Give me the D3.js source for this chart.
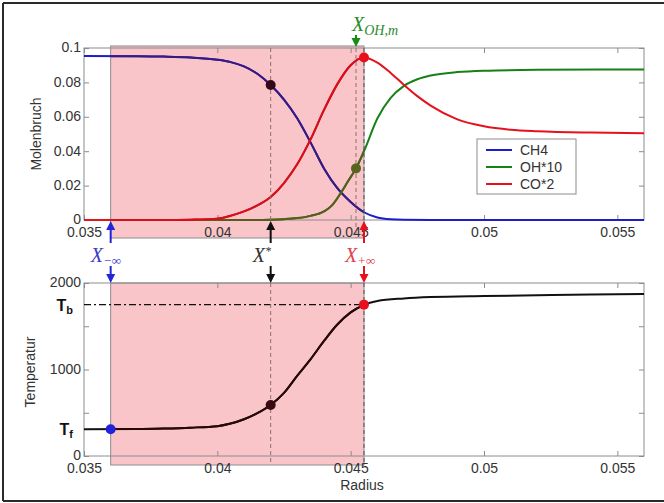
<!DOCTYPE html>
<html>
<head>
<meta charset="utf-8">
<script src="https://cdn.jsdelivr.net/npm/d3@7"></script>
<style>
  html, body { margin: 0; padding: 0; background: #fff; }
  svg { display: block; }
  .tick text { font-family: Arial, "Liberation Sans", sans-serif; font-size: 14px; fill: #333; }
</style>
</head>
<body>
<svg id="chart" width="664" height="503"></svg>
<script>
// ---- data ----------------------------------------------------------------
const radiusTicks = [0.035, 0.04, 0.045, 0.05, 0.055];
const radiusTickLabels = ["0.035", "0.04", "0.045", "0.05", "0.055"];
const moleTicks = [0, 0.02, 0.04, 0.06, 0.08, 0.1];
const moleTickLabels = ["0", "0.02", "0.04", "0.06", "0.08", "0.1"];
const tempTicks = [0, 500, 1000, 1500, 2000];
const tempTickLabels = ["0", "", "1000", "", "2000"];

const ch4 = [
  [0.035, 0.0953], [0.037, 0.0952], [0.038, 0.0950], [0.039, 0.0945], [0.040, 0.0932],
  [0.0405, 0.0918], [0.041, 0.0893], [0.0415, 0.0850], [0.042, 0.0785], [0.0425, 0.0700],
  [0.043, 0.0590], [0.0435, 0.0450], [0.044, 0.0300], [0.0445, 0.0185], [0.045, 0.0105],
  [0.0455, 0.0045], [0.046, 0.0015], [0.0465, 0.0004], [0.047, 0.0001], [0.048, 0], [0.056, 0]
];
const oh10 = [
  [0.035, 0], [0.041, 0], [0.042, 0.0002], [0.0425, 0.0005], [0.043, 0.0011], [0.0435, 0.0024],
  [0.044, 0.0050], [0.0443, 0.0085], [0.0446, 0.0150], [0.0449, 0.0225], [0.0452, 0.0300],
  [0.0455, 0.0400], [0.046, 0.0590], [0.0465, 0.0710], [0.047, 0.0780], [0.0475, 0.0818],
  [0.048, 0.0840], [0.049, 0.0860], [0.050, 0.0868], [0.052, 0.0873], [0.056, 0.0875]
];
const co2 = [
  [0.035, 0], [0.038, 0], [0.039, 0.0002], [0.040, 0.0008], [0.0405, 0.0025], [0.041, 0.0050],
  [0.0415, 0.0085], [0.042, 0.0134], [0.0425, 0.0215], [0.043, 0.0325], [0.0435, 0.0470],
  [0.044, 0.0640], [0.0445, 0.0790], [0.045, 0.0900], [0.0455, 0.0945], [0.046, 0.0915],
  [0.0465, 0.0855], [0.047, 0.0785], [0.0475, 0.0720], [0.048, 0.0665], [0.049, 0.0585],
  [0.050, 0.0545], [0.051, 0.0525], [0.052, 0.0516], [0.054, 0.0508], [0.056, 0.0505]
];
const temperature = [
  [0.035, 310], [0.037, 312], [0.038, 318], [0.039, 328], [0.040, 345], [0.0405, 375],
  [0.041, 425], [0.0415, 495], [0.042, 590], [0.0425, 730], [0.043, 930], [0.0435, 1120],
  [0.044, 1330], [0.0445, 1520], [0.045, 1660], [0.0455, 1748], [0.046, 1792], [0.047, 1822],
  [0.048, 1838], [0.050, 1850], [0.052, 1858], [0.054, 1866], [0.056, 1873]
];

// characteristic positions of the reaction zone
const xMinusInf = 0.036;
const xStar = 0.042;
const xOHm = 0.0452;
const xPlusInf = 0.0455;
const Tf = 310;
const Tb = 1750;

// marked points
const upperDots = [
  { x: xStar, y: 0.0785, color: "#33091a" },
  { x: xOHm, y: 0.0300, color: "#5a6420" },
  { x: xPlusInf, y: 0.0945, color: "#e8101c" }
];
const lowerDots = [
  { x: xMinusInf, y: Tf, color: "#2222dd" },
  { x: xStar, y: 590, color: "#3a0a12" },
  { x: xPlusInf, y: Tb, color: "#e8101c" }
];

const series = [
  { name: "CH4", data: ch4, color: "#1d1dcc", shaded: "#3a1a7c" },
  { name: "OH*10", data: oh10, color: "#178017", shaded: "#5a5c1e" },
  { name: "CO*2", data: co2, color: "#e3121c", shaded: "#d3101c" }
];

// ---- layout --------------------------------------------------------------
const svg = d3.select("#chart");
const font = "Arial, 'Liberation Sans', sans-serif";
const serif = "'Liberation Serif', 'DejaVu Serif', serif";

const x = d3.scaleLinear().domain([0.035, 0.056]).range([84, 644]);
const yTop = d3.scaleLinear().domain([0, 0.1]).range([220, 48]);
const yBot = d3.scaleLinear().domain([0, 2000]).range([456, 283]);

const pink = "#f9c5c9";
const boxGray = "#8c8c8c";

// outer frame
svg.append("rect").attr("width", 664).attr("height", 503).attr("fill", "#fff");
const frame = svg.append("g").attr("stroke", "#2a2a2a").attr("stroke-width", 2);
frame.append("line").attr("x1", 3).attr("x2", 664).attr("y1", 3).attr("y2", 3);
frame.append("line").attr("x1", 3).attr("x2", 3).attr("y1", 3).attr("y2", 501);
frame.append("line").attr("x1", 3).attr("x2", 664).attr("y1", 501).attr("y2", 501);

const defs = svg.append("defs");
function clip(id, x0, y0, w, h) {
  defs.append("clipPath").attr("id", id).append("rect")
    .attr("x", x0).attr("y", y0).attr("width", w).attr("height", h);
  return `url(#${id})`;
}

function panel(yScale, opts) {
  const g = svg.append("g");
  const [yb, yt] = yScale.range();
  const x0 = x.range()[0], x1 = x.range()[1];

  // shaded reaction zone
  g.append("rect")
    .attr("x", x(xMinusInf)).attr("y", opts.shadeTop)
    .attr("width", x(xPlusInf) - x(xMinusInf)).attr("height", opts.shadeBottom - opts.shadeTop)
    .attr("fill", pink).attr("stroke", boxGray).attr("stroke-width", 1);

  // axis box
  g.append("rect").attr("x", x0).attr("y", yt).attr("width", x1 - x0).attr("height", yb - yt)
    .attr("fill", "none").attr("stroke", boxGray).attr("stroke-width", 1);

  const styleAxis = sel => {
    sel.select(".domain").remove();
    sel.selectAll(".tick line").attr("stroke", boxGray);
  };
  g.append("g").attr("transform", `translate(0,${yb})`)
    .call(d3.axisBottom(x).tickValues(radiusTicks).tickSize(-5).tickSizeOuter(0).tickPadding(4)
      .tickFormat((d, i) => radiusTickLabels[i]))
    .call(styleAxis)
    .selectAll("text").attr("dy", "0.93em");
  g.append("g").attr("transform", `translate(0,${yt})`)
    .call(d3.axisTop(x).tickValues(radiusTicks).tickSize(-5).tickSizeOuter(0).tickFormat(""))
    .call(styleAxis);
  g.append("g").attr("transform", `translate(${x0},0)`)
    .call(d3.axisLeft(yScale).tickValues(opts.ticks).tickSize(-5).tickSizeOuter(0).tickPadding(3)
      .tickFormat((d, i) => opts.tickLabels[i]))
    .call(styleAxis)
    .selectAll("text").attr("dy", "0.28em");
  g.append("g").attr("transform", `translate(${x1},0)`)
    .call(d3.axisRight(yScale).tickValues(opts.ticks).tickSize(-5).tickSizeOuter(0).tickFormat(""))
    .call(styleAxis);
  return g;
}

// ---- upper panel: mole fractions -----------------------------------------
const upper = panel(yTop, { shadeTop: 46, shadeBottom: 238, ticks: moleTicks, tickLabels: moleTickLabels });
const upperClip = clip("upperClip", 84, 40, 560, 200);
const upperShadeClip = clip("upperShadeClip", x(xMinusInf), 46, x(xPlusInf) - x(xMinusInf), 192);

const lineTop = d3.line().x(d => x(d[0])).y(d => yTop(d[1])).curve(d3.curveMonotoneX);
series.forEach(s => {
  upper.append("path").attr("d", lineTop(s.data)).attr("fill", "none")
    .attr("stroke", s.color).attr("stroke-width", 2).attr("clip-path", upperClip);
  upper.append("path").attr("d", lineTop(s.data)).attr("fill", "none")
    .attr("stroke", s.shaded).attr("stroke-width", 2).attr("clip-path", upperShadeClip);
});

[xStar, xOHm, xPlusInf].forEach((v, i) => {
  upper.append("line").attr("x1", x(v)).attr("x2", x(v)).attr("y1", 48).attr("y2", 238)
    .attr("stroke", i === 2 ? "#555" : "#8a7070").attr("stroke-width", 1)
    .attr("stroke-dasharray", "4,3");
});
upperDots.forEach(d => {
  upper.append("circle").attr("cx", x(d.x)).attr("cy", yTop(d.y)).attr("r", 5).attr("fill", d.color);
});

// legend
const leg = upper.append("g");
leg.append("rect").attr("x", 477).attr("y", 139).attr("width", 99).attr("height", 55)
  .attr("fill", "#fff").attr("stroke", boxGray);
series.forEach((s, i) => {
  const ly = 150 + i * 17;
  leg.append("line").attr("x1", 486).attr("x2", 512).attr("y1", ly).attr("y2", ly)
    .attr("stroke", s.color).attr("stroke-width", 2);
  leg.append("text").attr("x", 520).attr("y", ly + 5).text(s.name)
    .attr("font-family", font).attr("font-size", 14).attr("fill", "#333");
});

svg.append("text").attr("transform", "translate(41,134) rotate(-90)")
  .attr("text-anchor", "middle").attr("font-family", font).attr("font-size", 14)
  .attr("fill", "#333").text("Molenbruch");

// ---- lower panel: temperature --------------------------------------------
const lower = panel(yBot, { shadeTop: 283, shadeBottom: 465, ticks: tempTicks, tickLabels: tempTickLabels });
const lowerClip = clip("lowerClip", 84, 270, 560, 200);
const lowerShadeClip = clip("lowerShadeClip", x(xMinusInf), 283, x(xPlusInf) - x(xMinusInf), 182);

const lineBot = d3.line().x(d => x(d[0])).y(d => yBot(d[1])).curve(d3.curveMonotoneX);
lower.append("path").attr("d", lineBot(temperature)).attr("fill", "none")
  .attr("stroke", "#111").attr("stroke-width", 2).attr("clip-path", lowerClip);
lower.append("path").attr("d", lineBot(temperature)).attr("fill", "none")
  .attr("stroke", "#2a0808").attr("stroke-width", 2).attr("clip-path", lowerShadeClip);

// adiabatic flame temperature
lower.append("line").attr("x1", x(0.035)).attr("x2", x(xPlusInf)).attr("y1", yBot(Tb)).attr("y2", yBot(Tb))
  .attr("stroke", "#111").attr("stroke-width", 1.4).attr("stroke-dasharray", "7,3,2,3");

[xStar, xPlusInf].forEach((v, i) => {
  lower.append("line").attr("x1", x(v)).attr("x2", x(v)).attr("y1", 283).attr("y2", 465)
    .attr("stroke", i === 1 ? "#555" : "#8a7070").attr("stroke-width", 1)
    .attr("stroke-dasharray", "4,3");
});
lowerDots.forEach(d => {
  lower.append("circle").attr("cx", x(d.x)).attr("cy", yBot(d.y)).attr("r", 5).attr("fill", d.color);
});

svg.append("text").attr("transform", "translate(35,372) rotate(-90)")
  .attr("text-anchor", "middle").attr("font-family", font).attr("font-size", 14)
  .attr("fill", "#333").text("Temperatur");
svg.append("text").attr("x", 362).attr("y", 490).attr("text-anchor", "middle")
  .attr("font-family", font).attr("font-size", 14).attr("fill", "#333").text("Radius");

// T_b / T_f labels
function tempLabel(sub, value) {
  const t = svg.append("text").attr("x", 73).attr("y", yBot(value) + 6).attr("text-anchor", "end")
    .attr("font-family", font).attr("font-weight", "bold").attr("font-size", 16).attr("fill", "#111");
  t.append("tspan").text("T");
  t.append("tspan").attr("font-size", 11).attr("dy", 3).text(sub);
}
tempLabel("b", Tb);
tempLabel("f", Tf);

// ---- arrows and position labels ------------------------------------------
function arrow(px, yFrom, yTip, color) {
  const dir = yTip < yFrom ? -1 : 1;
  const g = svg.append("g");
  g.append("line").attr("x1", px).attr("x2", px).attr("y1", yFrom).attr("y2", yTip - dir * 6)
    .attr("stroke", color).attr("stroke-width", 2);
  g.append("path")
    .attr("d", `M${px},${yTip} L${px - 4.5},${yTip - dir * 9} L${px + 4.5},${yTip - dir * 9} Z`)
    .attr("fill", color);
}
function posLabel(px, py, sub, subDy, color, subSize) {
  const t = svg.append("text").attr("x", px).attr("y", py)
    .attr("font-family", serif).attr("font-style", "italic").attr("font-size", 20).attr("fill", color);
  t.append("tspan").text("X");
  if (sub) t.append("tspan").attr("font-size", subSize).attr("dy", subDy).text(sub);
}

const markers = [
  { v: xMinusInf, color: "#2424d8", text: "#3a3ac4", sub: "−∞", dx: -20, dy: 3 },
  { v: xStar, color: "#111", text: "#333", sub: "*", dx: -18, dy: -7 },
  { v: xPlusInf, color: "#e8101c", text: "#e0404c", sub: "+∞", dx: -19, dy: 3 }
];
markers.forEach(m => {
  const px = x(m.v);
  arrow(px, 243, 221, m.color);
  arrow(px, 266, 283, m.color);
  posLabel(px + m.dx, 262, m.sub, m.dy, m.text, m.sub === "*" ? 12 : 13);
});

arrow(x(xOHm), 35, 47, "#178a17");
posLabel(x(xOHm) - 4, 31, "OH,m", 4, "#2a8a2a", 14);
</script>
</body>
</html>
